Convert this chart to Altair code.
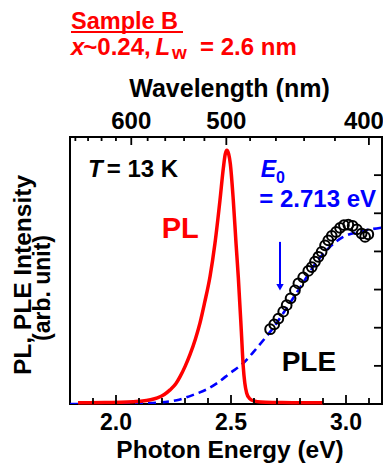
import altair as alt
import pandas as pd

# ---------------- data ----------------
pl_energy = [1.835, 1.95, 2.05, 2.10, 2.15, 2.18, 2.21, 2.235, 2.26, 2.278, 2.30, 2.322, 2.345,
             2.365, 2.385, 2.409, 2.43, 2.452, 2.467, 2.475, 2.482, 2.49, 2.497, 2.51, 2.522,
             2.532, 2.545, 2.553, 2.56, 2.568, 2.58, 2.60, 2.63, 2.70, 2.80, 2.90]
pl_intensity = [0.03, 0.04, 0.05, 0.07, 0.11, 0.16, 0.25, 0.37, 0.53, 0.71, 0.98, 1.30, 1.70,
                2.12, 2.65, 3.35, 4.20, 5.34, 6.20, 6.55, 6.65, 6.55, 6.30, 5.34, 4.20,
                3.30, 1.90, 1.00, 0.55, 0.29, 0.15, 0.08, 0.05, 0.04, 0.03, 0.03]

fit_energy = [1.80, 1.90, 2.00, 2.10, 2.19, 2.264, 2.336, 2.40, 2.438, 2.496, 2.553, 2.60,
              2.647, 2.684, 2.727, 2.80, 2.872, 2.93, 2.988, 3.061, 3.162, 3.187]
fit_intensity = [0.0, 0.0, 0.01, 0.02, 0.04, 0.10, 0.24, 0.40, 0.54, 0.81, 1.07, 1.38,
                 1.72, 2.00, 2.38, 3.05, 3.72, 4.12, 4.38, 4.52, 4.63, 4.65]

ple_energy = [2.670, 2.688, 2.706, 2.727, 2.742, 2.759, 2.778, 2.793, 2.814, 2.836, 2.851,
              2.865, 2.880, 2.894, 2.909, 2.923, 2.938, 2.957, 2.974, 2.991, 3.010, 3.029,
              3.047, 3.068, 3.083, 3.097]
ple_intensity = [1.96, 2.09, 2.24, 2.42, 2.59, 2.77, 2.98, 3.16, 3.32, 3.49, 3.59,
                 3.73, 3.86, 3.99, 4.16, 4.29, 4.41, 4.51, 4.62, 4.69, 4.70, 4.67,
                 4.58, 4.47, 4.38, 4.45]

bottom_major = [2.0, 2.5, 3.0]
bottom_minor = [1.9, 2.1, 2.2, 2.3, 2.4, 2.6, 2.7, 2.8, 2.9, 3.1]
bottom_labels = ["2.0", "2.5", "3.0"]
top_major_nm = [600, 500, 400]
top_minor_nm = [680, 660, 640, 620, 580, 560, 540, 520, 480, 460, 440, 420]
right_ticks = [1, 2, 3, 4, 5, 6]

E0 = 2.713
HC = 1239.84

# ---------------- layout ----------------
W, H = 312, 267
FONT = "Liberation Sans"
RED = "#ff0000"
BLUE = "#0000ff"

xs = alt.Scale(domain=[1.8, 1.8 + W / 230.0], nice=False, zero=False)
ys = alt.Scale(domain=[0, 7], nice=False, zero=False)


def X(field="E"):
    return alt.X(f"{field}:Q", scale=xs, axis=None)


def Y(field="I"):
    return alt.Y(f"{field}:Q", scale=ys, axis=None)


one = pd.DataFrame({"a": [0]})

pl = alt.Chart(pd.DataFrame({"E": pl_energy, "I": pl_intensity})).mark_line(
    color=RED, strokeWidth=3.5, interpolate="monotone"
).encode(x=X(), y=Y())

fit = alt.Chart(pd.DataFrame({"E": fit_energy, "I": fit_intensity})).mark_line(
    color=BLUE, strokeWidth=2.6, strokeDash=[8, 5], interpolate="monotone", clip=True
).encode(x=X(), y=Y())

ple = alt.Chart(pd.DataFrame({"E": ple_energy, "I": ple_intensity})).mark_point(
    shape="circle", filled=False, stroke="black", strokeWidth=2, size=95, opacity=1
).encode(x=X(), y=Y())

arrow_line = alt.Chart(pd.DataFrame({"E": [E0], "I": [4.25], "I2": [3.1]})).mark_rule(
    color=BLUE, strokeWidth=2
).encode(x=X(), y=Y(), y2=alt.Y2("I2:Q"))

arrow_head = alt.Chart(pd.DataFrame({"E": [E0], "I": [3.06]})).mark_point(
    shape="triangle-down", filled=True, color=BLUE, size=55, opacity=1
).encode(x=X(), y=Y())


def bottom_ticks(vals, length):
    return alt.Chart(pd.DataFrame({"E": vals})).mark_rule(color="black", strokeWidth=1.8).encode(
        x=X(), y=alt.value(H), y2=alt.value(H - length))


def top_ticks(vals, length):
    return alt.Chart(pd.DataFrame({"wl": vals})).transform_calculate(
        E=f"{HC} / datum.wl").mark_rule(color="black", strokeWidth=1.8).encode(
        x=X(), y=alt.value(0), y2=alt.value(length))


rticks = alt.Chart(pd.DataFrame({"I": right_ticks})).mark_rule(color="black", strokeWidth=1.8).encode(
    y=Y(), x=alt.value(W), x2=alt.value(W - 8))

blabels = alt.Chart(pd.DataFrame({"E": bottom_major, "t": bottom_labels})).mark_text(
    font=FONT, fontSize=23, fontWeight="bold", align="center", baseline="alphabetic", color="black"
).encode(x=X(), y=alt.value(293), text="t:N")


def top_label(wls, dx):
    return alt.Chart(pd.DataFrame({"wl": wls})).transform_calculate(
        E=f"{HC} / datum.wl", t="format(datum.wl, 'd')").mark_text(
        font=FONT, fontSize=24, fontWeight="bold", align="center", baseline="alphabetic",
        color="black", dx=dx
    ).encode(x=X(), y=alt.value(-8), text="t:N")


tlabels = top_label(top_major_nm[:2], 0)
tlabels_edge = top_label(top_major_nm[2:], -5)


def ptext(s, x, y, size, color="black", italic=False, align="left", angle=0):
    kw = dict(font=FONT, fontSize=size, fontWeight="bold", align=align,
              baseline="alphabetic", color=color)
    if italic:
        kw["fontStyle"] = "italic"
    if angle:
        kw["angle"] = angle
    return alt.Chart(pd.DataFrame({"t": [s]})).mark_text(**kw).encode(
        x=alt.value(x), y=alt.value(y), text="t:N")


def dtext(s, e, i, size, color="black", italic=False):
    kw = dict(font=FONT, fontSize=size, fontWeight="bold", align="left",
              baseline="alphabetic", color=color)
    if italic:
        kw["fontStyle"] = "italic"
    return alt.Chart(pd.DataFrame({"t": [s], "E": [e], "I": [i]})).mark_text(**kw).encode(
        x=X(), y=Y(), text="t:N")


texts = [
    ptext("Sample B", 1, -108, 23.5, RED),
    ptext("x", 1, -82, 24, RED, italic=True),
    ptext("~0.24,", 13.3, -82, 24, RED),
    ptext("L", 85.5, -82, 24, RED, italic=True),
    ptext("w", 102, -77.7, 19, RED),
    ptext("= 2.6 nm", 130, -82, 24, RED),
    ptext("Wavelength (nm)", 159.5, -40, 25, align="center"),
    ptext("Photon Energy (eV)", 160, 321, 24.5, align="center"),
    ptext("PL, PLE  Intensity", -39.5, 138, 24.5, align="center", angle=270),
    ptext("(arb. unit)", -20, 151, 23, align="center", angle=270),
    dtext("T", 1.8783, 5.95, 24, italic=True),
    dtext("= 13 K", 1.9596, 5.95, 24),
    dtext("PL", 2.1987, 4.352, 29, RED),
    dtext("PLE", 2.7204, 0.873, 28),
    dtext("E", 2.629, 5.96, 23, BLUE, italic=True),
    dtext("0", 2.6957, 5.79, 16, BLUE),
    dtext("= 2.713 eV", 2.623, 5.157, 24, BLUE),
]

underline = alt.Chart(one).mark_rule(color=RED, strokeWidth=2).encode(
    x=alt.value(1), x2=alt.value(113), y=alt.value(-105))

chart = alt.layer(
    fit, pl, ple, arrow_line, arrow_head,
    bottom_ticks(bottom_major, 9), bottom_ticks(bottom_minor, 6),
    top_ticks(top_major_nm, 8), top_ticks(top_minor_nm, 4),
    rticks, blabels, tlabels, tlabels_edge, underline, *texts
).properties(
    width=W, height=H,
    padding={"left": 62, "top": 129, "right": 1, "bottom": 59},
    autosize=alt.AutoSizeParams(type="none"),
).configure_view(stroke="black", strokeWidth=2)

chart.save("out.html", embed_options={"renderer": "svg", "actions": False})
